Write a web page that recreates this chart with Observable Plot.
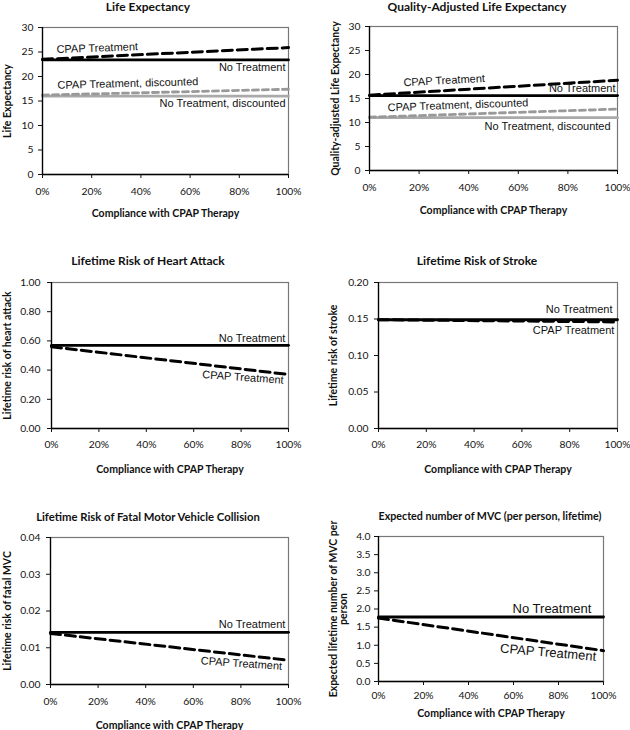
<!DOCTYPE html>
<html>
<head>
<meta charset="utf-8">
<script src="https://cdn.jsdelivr.net/npm/d3@7"></script>
<script src="https://cdn.jsdelivr.net/npm/@observablehq/plot@0.6"></script>
<style>
  html, body { margin: 0; padding: 0; background: #fff; }
  #root { position: relative; width: 630px; height: 730px; overflow: hidden; background: #fff; }
  .panel { position: absolute; }
  .title { position: absolute; font-family: Lato, sans-serif; font-weight: bold; font-size: 12px; color: #111; white-space: nowrap; transform: translate(-50%, -50%); line-height: 1; }
  [aria-label="x-axis label"], [aria-label="y-axis label"] { font-weight: bold; font-size: 10.5px; }
</style>
</head>
<body>
<div id="root"></div>
<script>
// ---------------- data ----------------
const compliance = [0, 1];                       // share compliant with CPAP therapy
const xTickValues = [0, 0.2, 0.4, 0.6, 0.8, 1];
const xTitle = "Compliance with CPAP Therapy";

const panelTitles = [
  "Life Expectancy",
  "Quality-Adjusted Life Expectancy",
  "Lifetime Risk of Heart Attack",
  "Lifetime Risk of Stroke",
  "Lifetime Risk of Fatal Motor Vehicle Collision",
  "Expected number of MVC (per person, lifetime)"
];
const yTitles = [
  "Life Expectancy",
  "Quality-adjusted Life Expectancy",
  "Lifetime risk of heart attack",
  "Lifetime risk of stroke",
  "Lifetime risk of fatal MVC",
  "Expected lifetime number of MVC per\nperson"
];

const seriesNames = ["CPAP Treatment", "No Treatment", "CPAP Treatment, discounted", "No Treatment, discounted"];

// Life expectancy (years)
const lifeCpap = [23.5, 25.9];
const lifeNone = [23.4, 23.4];
const lifeCpapDisc = [16.2, 17.4];
const lifeNoneDisc = [16.0, 16.0];
const lifeTicks = [0, 5, 10, 15, 20, 25, 30];

// Quality-adjusted life expectancy
const qalyCpap = [15.7, 18.8];
const qalyNone = [15.6, 15.6];
const qalyCpapDisc = [11.1, 12.8];
const qalyNoneDisc = [11.0, 11.0];
const qalyTicks = [0, 5, 10, 15, 20, 25, 30];

// Lifetime risk of heart attack
const heartNone = [0.57, 0.57];
const heartCpap = [0.56, 0.37];
const heartTicks = [0, 0.2, 0.4, 0.6, 0.8, 1.0];

// Lifetime risk of stroke
const strokeNone = [0.149, 0.149];
const strokeCpap = [0.149, 0.146];
const strokeTicks = [0, 0.05, 0.10, 0.15, 0.20];

// Lifetime risk of fatal MVC
const fatalNone = [0.0142, 0.0142];
const fatalCpap = [0.0139, 0.0066];
const fatalTicks = [0, 0.01, 0.02, 0.03, 0.04];

// Expected number of MVC per person
const mvcNone = [1.78, 1.78];
const mvcCpap = [1.75, 0.85];
const mvcTicks = [0, 0.5, 1.0, 1.5, 2.0, 2.5, 3.0, 3.5, 4.0];

// label anchor points (data units)
const lifeLabelX = [0.057, 0.988, 0.061, 0.988];
const lifeLabelY = [25.5, 21.8, 18.2, 14.5];
const qalyLabelX = [0.137, 0.992, 0.073, 0.972];
const qalyLabelY = [18.3, 17.1, 13.1, 9.2];
const heartLabelX = [0.808, 0.987];
const heartLabelY = [0.35, 0.616];
const strokeLabelX = [0.987, 0.979];
const strokeLabelY = [0.134, 0.163];
const fatalLabelX = [0.802, 0.987];
const fatalLabelY = [0.0057, 0.0163];
const mvcLabelX = [0.754, 0.771];
const mvcLabelY = [0.80, 2.01];

// ---------------- styles ----------------
const STY = {
  cpap:     {stroke: "#000", strokeWidth: 3, strokeDasharray: "10,5"},
  none:     {stroke: "#000", strokeWidth: 2.8},
  cpapDisc: {stroke: "#999", strokeWidth: 2.8, strokeDasharray: "6,4"},
  noneDisc: {stroke: "#aaa", strokeWidth: 2.8}
};

const rows = (vals) => compliance.map((c, i) => ({x: c, y: vals[i]}));

const panels = [
  {left: 0, top: 0, height: 225, mL: 42, mR: 27, mT: 27, mB: 51, domain: [0, 30], ticks: lifeTicks, fmt: d3.format("d"),
   xPad: 9, yPad: 5, xLab: 42, yLab: 39, titleX: 148, titleY: 7, titleSize: 12,
   series: [[lifeNoneDisc, "noneDisc"], [lifeCpapDisc, "cpapDisc"], [lifeNone, "none"], [lifeCpap, "cpap"]],
   labels: [
     {i: 0, x: lifeLabelX[0], y: lifeLabelY[0], anchor: "start", rotate: -2, size: 11},
     {i: 1, x: lifeLabelX[1], y: lifeLabelY[1], anchor: "end", rotate: 0, size: 11},
     {i: 2, x: lifeLabelX[2], y: lifeLabelY[2], anchor: "start", rotate: -1.5, size: 11},
     {i: 3, x: lifeLabelX[3], y: lifeLabelY[3], anchor: "end", rotate: 0, size: 11}
   ]},
  {left: 315, top: 0, height: 225, mL: 54, mR: 13, mT: 26, mB: 55, domain: [0, 30], ticks: qalyTicks, fmt: d3.format("d"),
   xPad: 9, yPad: 5, xLab: 43, yLab: 38, titleX: 477, titleY: 7, titleSize: 12,
   series: [[qalyNoneDisc, "noneDisc"], [qalyCpapDisc, "cpapDisc"], [qalyNone, "none"], [qalyCpap, "cpap"]],
   labels: [
     {i: 0, x: qalyLabelX[0], y: qalyLabelY[0], anchor: "start", rotate: -3, size: 11},
     {i: 1, x: qalyLabelX[1], y: qalyLabelY[1], anchor: "end", rotate: 0, size: 11},
     {i: 2, x: qalyLabelX[2], y: qalyLabelY[2], anchor: "start", rotate: -2, size: 11},
     {i: 3, x: qalyLabelX[3], y: qalyLabelY[3], anchor: "end", rotate: 0, size: 11}
   ]},
  {left: 0, top: 240, height: 240, mL: 51, mR: 27, mT: 42, mB: 52, domain: [0, 1], ticks: heartTicks, fmt: d3.format(".2f"),
   xPad: 8, yPad: 7, xLab: 44, yLab: 48, titleX: 148, titleY: 261, titleSize: 12,
   series: [[heartNone, "none"], [heartCpap, "cpap"]],
   labels: [
     {i: 0, x: heartLabelX[0], y: heartLabelY[0], anchor: "middle", rotate: 4, size: 11},
     {i: 1, x: heartLabelX[1], y: heartLabelY[1], anchor: "end", rotate: 0, size: 11}
   ]},
  {left: 315, top: 240, height: 240, mL: 63, mR: 13, mT: 42, mB: 52, domain: [0, 0.2], ticks: strokeTicks, fmt: d3.format(".2f"),
   xPad: 8, yPad: 6, xLab: 44, yLab: 49, titleX: 477, titleY: 261, titleSize: 12,
   series: [[strokeNone, "none"], [strokeCpap, "cpap"]],
   labels: [
     {i: 0, x: strokeLabelX[0], y: strokeLabelY[0], anchor: "end", rotate: 0, size: 11},
     {i: 1, x: strokeLabelX[1], y: strokeLabelY[1], anchor: "end", rotate: 0, size: 11}
   ]},
  {left: 0, top: 480, height: 250, mL: 50, mR: 27, mT: 57, mB: 46, domain: [0, 0.04], ticks: fatalTicks, fmt: d3.format(".2f"),
   xPad: 9, yPad: 6, xLab: 44, yLab: 47, titleX: 148, titleY: 517, titleSize: 11.3,
   series: [[fatalNone, "none"], [fatalCpap, "cpap"]],
   labels: [
     {i: 0, x: fatalLabelX[0], y: fatalLabelY[0], anchor: "middle", rotate: 4, size: 11},
     {i: 1, x: fatalLabelX[1], y: fatalLabelY[1], anchor: "end", rotate: 0, size: 11}
   ]},
  {left: 315, top: 480, height: 250, mL: 63, mR: 27, mT: 56, mB: 49, domain: [0, 4], ticks: mvcTicks, fmt: d3.format(".1f"),
   xPad: 6, yPad: 4, xLab: 35, yLab: 49, titleX: 490, titleY: 516, titleSize: 10.7,
   series: [[mvcNone, "none"], [mvcCpap, "cpap"]],
   labels: [
     {i: 0, x: mvcLabelX[0], y: mvcLabelY[0], anchor: "middle", rotate: 5, size: 13},
     {i: 1, x: mvcLabelX[1], y: mvcLabelY[1], anchor: "middle", rotate: 0, size: 13}
   ]}
];

const root = document.getElementById("root");

panels.forEach((p, k) => {
  const marks = [
    Plot.frame({stroke: "#777", strokeWidth: 1.2}),
    ...p.series.map(([vals, kind]) => Plot.line(rows(vals), {x: "x", y: "y", ...STY[kind]})),
    Plot.ruleX([0], {stroke: "#000", strokeWidth: 1.3}),
    Plot.ruleY([p.domain[0]], {stroke: "#000", strokeWidth: 1.3}),
    Plot.axisX({ticks: xTickValues, tickFormat: d3.format(".0%"), tickSize: 4, tickPadding: p.xPad,
      label: xTitle, labelAnchor: "center", labelOffset: p.xLab, labelArrow: "none"}),
    Plot.axisY({ticks: p.ticks, tickFormat: p.fmt, tickSize: 4, tickPadding: p.yPad,
      label: yTitles[k], labelAnchor: "center", labelOffset: p.yLab, labelArrow: "none"}),
    ...p.labels.map(l => Plot.text([{x: l.x, y: l.y, t: seriesNames[l.i]}], {
      x: "x", y: "y", text: "t", textAnchor: l.anchor, lineAnchor: "middle", rotate: l.rotate,
      fontFamily: "Liberation Sans, Arial, sans-serif", fontSize: l.size, fill: "#111"
    }))
  ];
  const svg = Plot.plot({
    width: 315, height: p.height,
    marginLeft: p.mL, marginRight: p.mR, marginTop: p.mT, marginBottom: p.mB,
    x: {domain: [0, 1]},
    y: {domain: p.domain},
    style: {fontFamily: "Lato, sans-serif", fontSize: "10.3px", color: "#111", background: "transparent"},
    marks
  });
  const wrap = document.createElement("div");
  wrap.className = "panel";
  wrap.style.left = p.left + "px";
  wrap.style.top = p.top + "px";
  wrap.appendChild(svg);
  root.appendChild(wrap);

  const t = document.createElement("div");
  t.className = "title";
  t.textContent = panelTitles[k];
  t.style.left = p.titleX + "px";
  t.style.top = p.titleY + "px";
  t.style.fontSize = p.titleSize + "px";
  root.appendChild(t);
});
</script>
</body>
</html>
